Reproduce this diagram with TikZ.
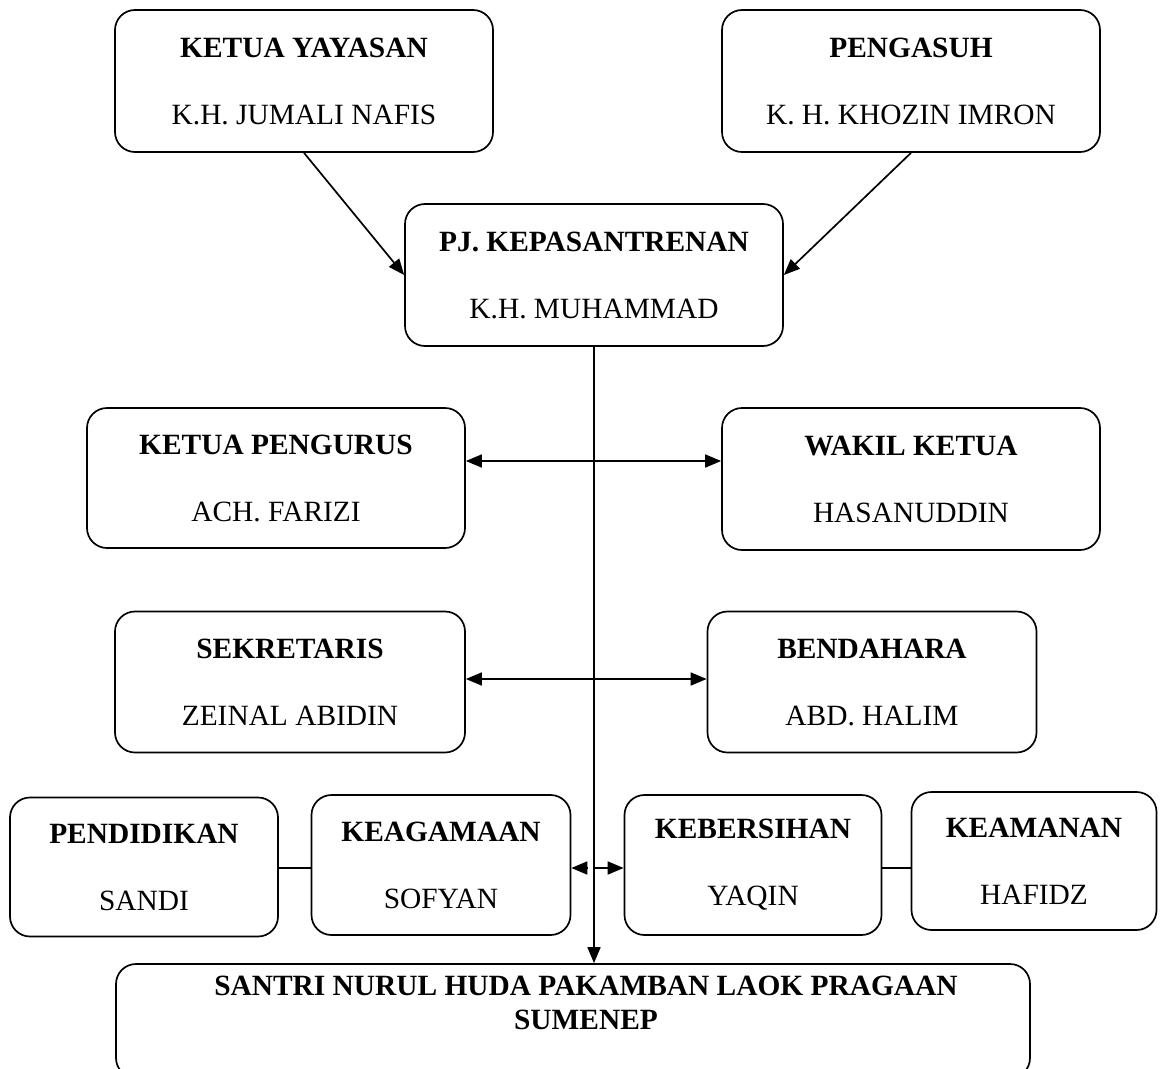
\documentclass[tikz,border=0pt]{standalone}
\usepackage{fontspec}
\setmainfont{Liberation Serif}
\usepackage{tikz}
\usetikzlibrary{arrows.meta,positioning,calc}

\tikzset{
  jabatan/.style={draw,rectangle,rounded corners=20pt,line width=1.7pt,align=center,
    inner sep=0pt,font=\fontsize{29.4}{34}\selectfont},
  panah/.style={line width=1.7pt,arrows={-Triangle[length=16pt,width=13pt]}},
  duapanah/.style={line width=1.7pt,arrows={Triangle[length=16pt,width=13pt]-Triangle[length=16pt,width=13pt]}},
  garis/.style={line width=1.7pt}
}

\begin{document}
\begin{tikzpicture}[x=1pt,y=-1pt]
        \useasboundingbox (0,0) rectangle (1167,1068);
        % pimpinan
        \node[jabatan,minimum width=378pt,minimum height=142pt] (yayasan) at (304,81)
        {\textbf{KETUA YAYASAN}\\[33pt]K.H. JUMALI NAFIS};
        \node[jabatan,minimum width=378pt,minimum height=142pt] (pengasuh) at (911,81)
        {\textbf{PENGASUH}\\[33pt]K. H. KHOZIN IMRON};
        \node[jabatan,minimum width=378pt,minimum height=142pt] (pj) at (594,275)
        {\textbf{PJ. KEPASANTRENAN}\\[33pt]K.H. MUHAMMAD};
        % pengurus inti
        \node[jabatan,minimum width=378pt,minimum height=140pt] (pengurus) at (276,478)
        {\textbf{KETUA PENGURUS}\\[33pt]ACH. FARIZI};
        \node[jabatan,minimum width=378pt,minimum height=142pt] (wakil) at (911,479)
        {\textbf{WAKIL KETUA}\\[33pt]HASANUDDIN};
        \node[jabatan,minimum width=350pt,minimum height=141pt] (sekretaris) at (290,682)
        {\textbf{SEKRETARIS}\\[33pt]ZEINAL ABIDIN};
        \node[jabatan,minimum width=329pt,minimum height=141pt] (bendahara) at (872,682)
        {\textbf{BENDAHARA}\\[33pt]ABD. HALIM};
        % seksi-seksi
        \node[jabatan,minimum width=268pt,minimum height=139pt] (pendidikan) at (144,867)
        {\textbf{PENDIDIKAN}\\[33pt]SANDI};
        \node[jabatan,minimum width=259pt,minimum height=140pt] (keagamaan) at (441,865)
        {\textbf{KEAGAMAAN}\\[33pt]SOFYAN};
        \node[jabatan,minimum width=257pt,minimum height=140pt] (kebersihan) at (753,865)
        {\textbf{KEBERSIHAN}\\[33pt]YAQIN};
        \node[jabatan,minimum width=245pt,minimum height=138pt] (keamanan) at (1034,861)
        {\textbf{KEAMANAN}\\[33pt]HAFIDZ};
        % santri
        \node[jabatan,minimum width=914pt,minimum height=114pt] (santri) at (573,1021) {};
        \node[align=center,font=\fontsize{29.4}{34}\selectfont\bfseries] (santriteks) at (586,1003)
        {SANTRI NURUL HUDA PAKAMBAN LAOK PRAGAAN\\SUMENEP};

        \draw[panah] (yayasan.south) -- (pj.west);
        \draw[panah] (pengasuh.south) -- (pj.east);
        \draw[panah] (pj.south) -- (pj.south |- santri.north);
        \draw[duapanah] (pengurus.east |- 0,461) -- (wakil.west |- 0,461);
        \draw[duapanah] (sekretaris.east |- 0,679) -- (bendahara.west |- 0,679);
        \coordinate (cabang) at (pj.south |- 0,868);
        \draw[panah] ([xshift=-7pt]cabang) -- (keagamaan.east |- cabang);
        \draw[panah] (cabang) -- (kebersihan.west |- cabang);
        \draw[garis] (pendidikan.east |- cabang) -- (keagamaan.west |- cabang);
        \draw[garis] (kebersihan.east |- cabang) -- (keamanan.west |- cabang);
      \end{tikzpicture}
\end{document}
